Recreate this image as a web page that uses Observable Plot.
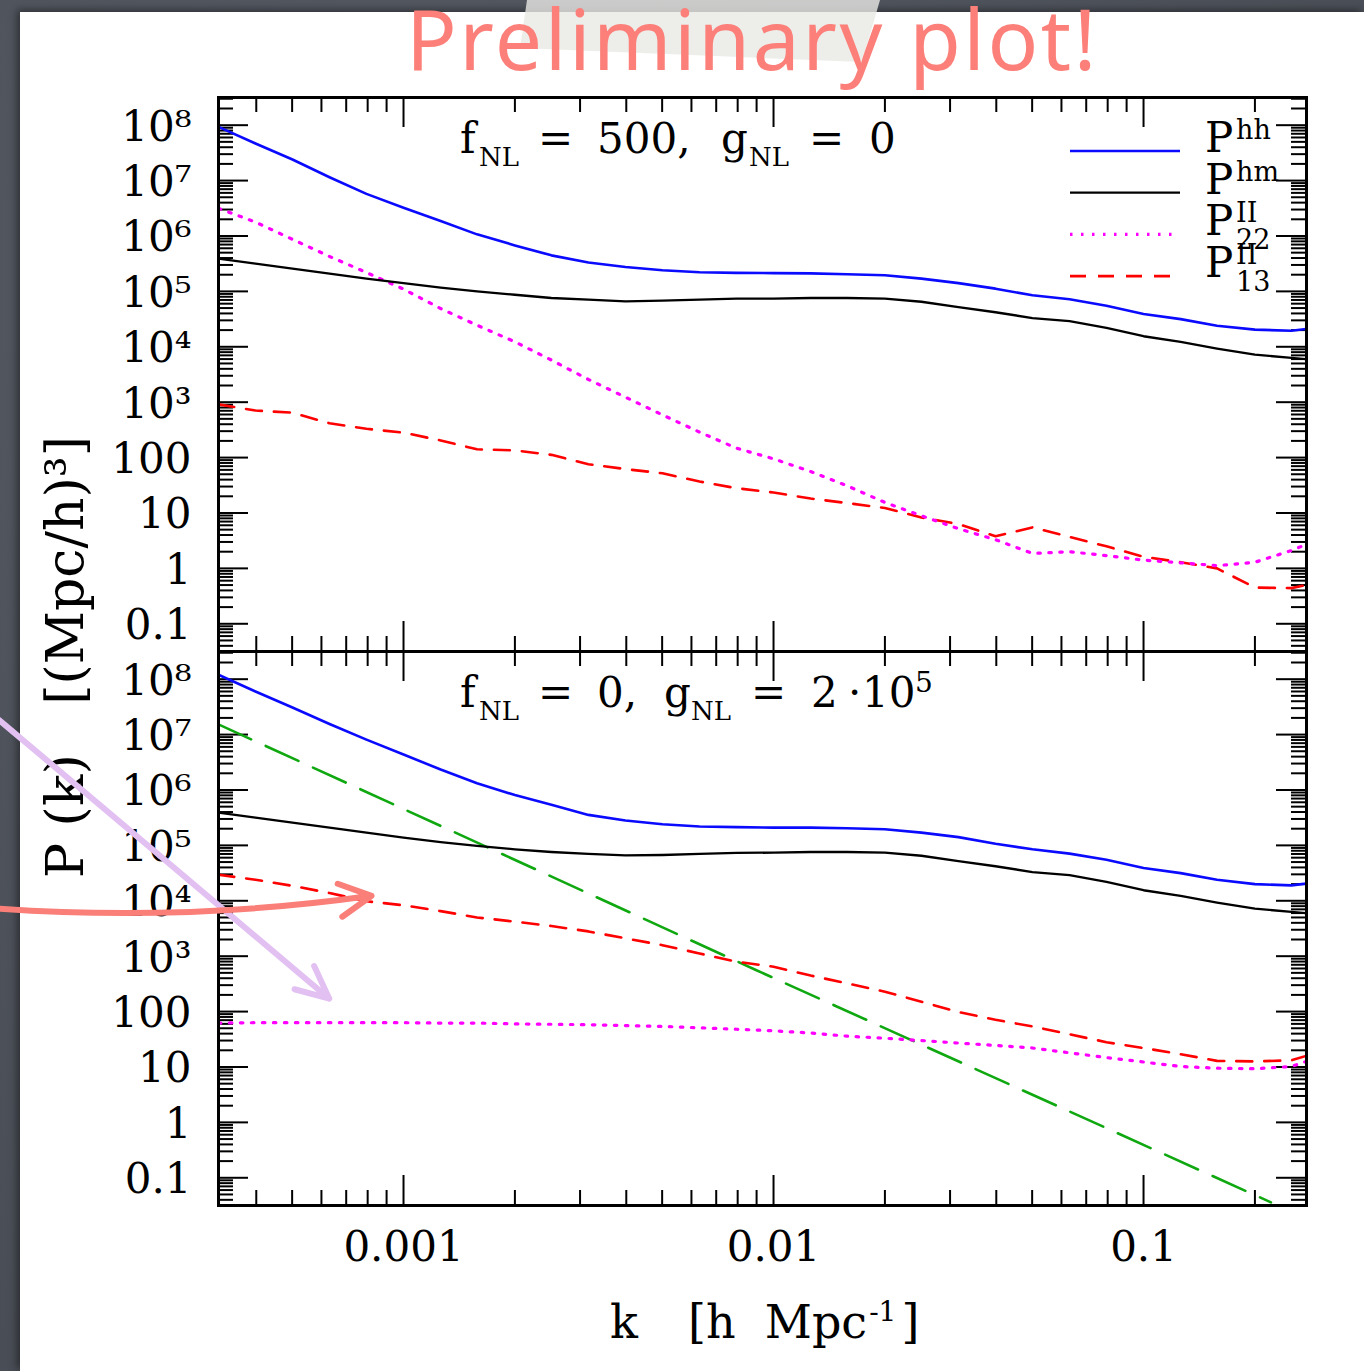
<!DOCTYPE html>
<html><head><meta charset="utf-8">
<script src="https://cdn.jsdelivr.net/npm/d3@7"></script>
<script src="https://cdn.jsdelivr.net/npm/@observablehq/plot@0.6"></script>
<style>
html,body{margin:0;padding:0;background:#4b5059;}
#page{position:relative;width:1364px;height:1371px;overflow:hidden;background:radial-gradient(circle at 30% 20%,#555a63,#464a52);}
#sheet{position:absolute;left:20px;top:12px;width:1344px;height:1359px;background:#fff;box-shadow:-3px -2px 8px rgba(0,0,0,0.45);}
#tape{position:absolute;left:0;top:0;width:1364px;height:120px;background:#e9e9e5;clip-path:polygon(527px 0,880px 0,862px 62px,520px 48px);opacity:0.8;}
.layer{position:absolute;left:0;width:1364px;}
</style></head>
<body>
<div id="page">
  <div id="sheet"></div>
  <div id="tape"></div>
  <div id="overlay" class="layer" style="top:0"></div>
  <div id="upper" class="layer" style="top:0"></div>
  <div id="lower" class="layer" style="top:641px"></div>
</div>
<script>
// ---------------- data ----------------
const kGrid = [3.16e-4, 3.98e-4, 5.01e-4, 6.31e-4, 7.94e-4, 1.0e-3, 1.26e-3, 1.58e-3, 2.0e-3, 2.51e-3,
  3.16e-3, 3.98e-3, 5.01e-3, 6.31e-3, 7.94e-3, 0.01, 0.0126, 0.0158, 0.02, 0.0251,
  0.0316, 0.0398, 0.0501, 0.0631, 0.0794, 0.1, 0.126, 0.158, 0.2, 0.251, 0.275];

// upper panel: f_NL = 500, g_NL = 0
const topPhh = [9.33e7, 4.68e7, 2.40e7, 1.15e7, 5.75e6, 3.24e6, 1.86e6, 1.07e6, 6.76e5, 4.47e5,
  3.31e5, 2.75e5, 2.40e5, 2.21e5, 2.16e5, 2.14e5, 2.11e5, 2.04e5, 1.95e5, 1.70e5,
  1.41e5, 1.12e5, 8.5e4, 7.2e4, 5.5e4, 3.9e4, 3.16e4, 2.4e4, 2.04e4, 1.95e4, 2.09e4];
const topPhm = [3.89e5, 3.16e5, 2.57e5, 2.09e5, 1.70e5, 1.41e5, 1.17e5, 1.0e5, 8.7e4, 7.6e4,
  7.1e4, 6.6e4, 6.8e4, 7.1e4, 7.4e4, 7.4e4, 7.6e4, 7.6e4, 7.4e4, 6.5e4,
  5.2e4, 4.2e4, 3.3e4, 2.9e4, 2.2e4, 1.55e4, 1.23e4, 9.3e3, 7.2e3, 6.3e3, 6.0e3];
const topP22 = [3.16e6, 1.78e6, 8.7e5, 4.27e5, 2.19e5, 1.10e5, 4.9e4, 2.45e4, 1.23e4, 5.75e3,
  2.57e3, 1.23e3, 589, 288, 148, 95, 56, 31, 15.5, 8.9,
  5.2, 3.3, 1.86, 2.0, 1.7, 1.41, 1.26, 1.12, 1.29, 2.1, 2.7];
const topP13 = [912, 708, 646, 417, 331, 282, 204, 141, 135, 112,
  76, 62, 52, 37, 28, 23.4, 18.2, 15.1, 12.3, 8.3,
  6.3, 3.8, 5.5, 3.7, 2.5, 1.62, 1.29, 1.0, 0.45, 0.44, 0.5];

// lower panel: f_NL = 0, g_NL = 2·10^5
const lowPhh = [1.20e8, 6.0e7, 3.09e7, 1.55e7, 8.1e6, 4.37e6, 2.34e6, 1.32e6, 8.1e5, 5.4e5,
  3.55e5, 2.82e5, 2.40e5, 2.19e5, 2.14e5, 2.09e5, 2.09e5, 2.04e5, 1.95e5, 1.70e5,
  1.41e5, 1.07e5, 8.5e4, 7.1e4, 5.5e4, 3.9e4, 3.16e4, 2.4e4, 2.0e4, 1.9e4, 2.04e4];
const lowPhm = [3.89e5, 3.16e5, 2.57e5, 2.09e5, 1.70e5, 1.38e5, 1.15e5, 9.8e4, 8.5e4, 7.6e4,
  7.0e4, 6.6e4, 6.7e4, 7.0e4, 7.3e4, 7.4e4, 7.6e4, 7.6e4, 7.4e4, 6.5e4,
  5.2e4, 4.2e4, 3.3e4, 2.9e4, 2.2e4, 1.55e4, 1.23e4, 9.3e3, 7.2e3, 6.3e3, 6.0e3];
const lowP22 = [62, 63, 63, 63, 63, 63, 62, 62, 60, 59,
  58, 56, 54, 51, 48, 45, 41, 36, 33, 30,
  27, 24.5, 22, 18, 14.8, 12.3, 10.2, 9.5, 9.3, 10.2, 12.6];
const lowP13 = [2.95e4, 2.4e4, 1.86e4, 1.38e4, 9.8e3, 8.3e3, 6.5e3, 5.0e3, 4.2e3, 3.5e3,
  2.8e3, 2.1e3, 1.58e3, 1.12e3, 794, 646, 447, 324, 229, 151,
  98, 71, 54, 39, 28, 22, 17, 12.9, 12.6, 13.2, 15.8];
const lowGreenK = [3.16e-4, 8.9e-3, 0.221];
const lowGreenP = [1.53e7, 575, 0.036];

// axes
const kDomain = [3.162e-4, 0.2757];
const pDomain = [0.0316, 3.16e8];
const xTickValues = [0.001, 0.01, 0.1];
const xTickLabels = ["0.001", "0.01", "0.1"];
const yTickValues = [1e8, 1e7, 1e6, 1e5, 1e4, 1e3, 100, 10, 1, 0.1];
const yTickLabels = ["10⁸", "10⁷", "10⁶", "10⁵", "10⁴", "10³", "100", "10", "1", "0.1"];

// legend
const legendKeys = ["Phh", "Phm", "P22", "P13"];
const legendSup = ["hh", "hm", "II", "II"];
const legendSub = ["", "", "22", "13"];

// annotation arrows drawn on the slide (data coordinates of lower panel)
const salmonArrow = [{k1: 8.1e-5, p1: 7.2e3, k2: 8.2e-4, p2: 1.23e4}];
const lavenderArrow = [{k1: 8.1e-5, p1: 1.8e7, k2: 6.3e-4, p2: 171}];

// ---------------- styles ----------------
const styles = {
  Phh: {stroke: "#0a0aff", strokeWidth: 2.6},
  Phm: {stroke: "#000000", strokeWidth: 2.3},
  P22: {stroke: "#ff00ff", strokeWidth: 3.2, strokeDasharray: "2.5,8.5"},
  P13: {stroke: "#ff0000", strokeWidth: 2.6, strokeDasharray: "16,12"},
  green: {stroke: "#10a810", strokeWidth: 2.6, strokeDasharray: "36,16"}
};
const SERIF = "DejaVu Serif";
const W = 1364, ML = 218, MR = 58, IH = 554, IW = W - ML - MR;

const isMajor = t => Math.abs(Math.log10(t) - Math.round(Math.log10(t))) < 1e-9;
const xMinor = d3.scaleLog().domain(kDomain).ticks(30).filter(t => !isMajor(t));
const yMinor = d3.scaleLog().domain(pDomain).ticks(40).filter(t => !isMajor(t));
const yMajor = d3.scaleLog().domain(pDomain).ticks(40).filter(isMajor);

function table(arrays) {
  return legendKeys.flatMap((key, j) => kGrid.map((k, i) => ({series: key, k, P: arrays[j][i]})));
}

function panel(opts) {
  const rows = table(opts.series);
  const tk = {stroke: "#000", strokeWidth: 2};
  const marks = [
    Plot.tickX(xTickValues, {x: d => d, insetTop: IH - 30, ...tk}),
    Plot.tickX(xTickValues, {x: d => d, insetBottom: IH - 30, ...tk}),
    Plot.tickX(xMinor, {x: d => d, insetTop: IH - 15, ...tk}),
    Plot.tickX(xMinor, {x: d => d, insetBottom: IH - 15, ...tk}),
    Plot.tickY(yMajor, {y: d => d, insetRight: IW - 30, ...tk}),
    Plot.tickY(yMajor, {y: d => d, insetLeft: IW - 30, ...tk}),
    Plot.tickY(yMinor, {y: d => d, insetRight: IW - 15, ...tk}),
    Plot.tickY(yMinor, {y: d => d, insetLeft: IW - 15, ...tk}),
    Plot.text(yTickValues, {y: d => d, text: (d, i) => yTickLabels[i], frameAnchor: "left", dx: -27, dy: 2,
      textAnchor: "end", fontSize: 42, fontFamily: SERIF, fill: "#000"}),
  ];
  if (opts.green) {
    const g = lowGreenK.map((k, i) => ({k, P: lowGreenP[i]}));
    marks.push(Plot.line(g, {x: "k", y: "P", clip: true, ...styles.green}));
  }
  for (const key of ["P13", "P22", "Phm", "Phh"]) {
    marks.push(Plot.line(rows.filter(r => r.series === key), {x: "k", y: "P", clip: true, ...styles[key]}));
  }
  marks.push(Plot.frame({stroke: "#000", strokeWidth: 3}));
  if (opts.xLabels) {
    marks.push(Plot.text(xTickValues, {x: d => d, text: (d, i) => xTickLabels[i], frameAnchor: "bottom", dy: 55,
      fontSize: 42, fontFamily: SERIF, fill: "#000"}));
  }
  if (opts.arrows) {
    marks.push(Plot.arrow(lavenderArrow, {x1: "k1", y1: "p1", x2: "k2", y2: "p2", stroke: "#e2c0f2",
      strokeWidth: 6, headLength: 9, headAngle: 50}));
    marks.push(Plot.arrow(salmonArrow, {x1: "k1", y1: "p1", x2: "k2", y2: "p2", stroke: "#fa7f78",
      strokeWidth: 6, bend: -6, headLength: 9, headAngle: 55}));
  }
  return Plot.plot({
    width: W, height: opts.height,
    marginLeft: ML, marginRight: MR, marginTop: opts.mt, marginBottom: opts.mb,
    x: {type: "log", domain: kDomain, axis: null},
    y: {type: "log", domain: pDomain, axis: null},
    style: {background: "transparent", overflow: "visible"},
    marks
  });
}

document.getElementById("upper").append(panel({
  series: [topPhh, topPhm, topP22, topP13], height: 661, mt: 97, mb: 10
}));
document.getElementById("lower").append(panel({
  series: [lowPhh, lowPhm, lowP22, lowP13], green: true, xLabels: true, arrows: true,
  height: 730, mt: 10, mb: 166
}));

// ---------------- overlay texts (title, legend, annotations, axis titles) ----------------
const svg = d3.select("#overlay").append("svg").attr("width", W).attr("height", 1371)
  .style("display", "block").attr("font-family", SERIF);

svg.append("text").attr("x", 406).attr("y", 70).attr("font-family", "Noto Sans")
  .attr("font-size", 84).attr("letter-spacing", 2.5).attr("fill", "#fc7f79").text("Preliminary plot!");

// legend
legendKeys.forEach((key, i) => {
  const y = 151 + i * 41.7;
  const s = styles[key];
  svg.append("line").attr("x1", 1070).attr("x2", 1180).attr("y1", y).attr("y2", y)
    .attr("stroke", s.stroke).attr("stroke-width", s.strokeWidth)
    .attr("stroke-dasharray", s.strokeDasharray || null);
  const t = svg.append("text").attr("y", y + 1).attr("font-size", 42);
  t.append("tspan").attr("x", 1205).text("P");
  t.append("tspan").attr("x", 1236).attr("y", y - 12).attr("font-size", 27).text(legendSup[i]);
  if (legendSub[i]) t.append("tspan").attr("x", 1236).attr("y", y + 15).attr("font-size", 27).text(legendSub[i]);
});

// panel annotations
function annot(base, pieces) {
  for (const p of pieces) {
    svg.append("text").attr("x", p[0]).attr("y", base + (p[2] || 0))
      .attr("font-size", p[3] || 42).text(p[1]);
  }
}
annot(153, [[460, "f"], [479, "NL", 13, 26], [538, "="], [597, "500,"], [721, "g"], [749, "NL", 13, 26], [809, "="], [869, "0"]]);
annot(707, [[460, "f"], [479, "NL", 13, 26], [538, "="], [597, "0,"], [664, "g"], [691, "NL", 13, 26], [751, "="], [811, "2"], [848, "·"], [862, "10"], [915, "5", -15, 28]]);

// x title
const xt = svg.append("text").attr("y", 1338).attr("font-size", 46).attr("xml:space", "preserve")
  .style("white-space", "pre");
xt.append("tspan").attr("x", 610).text("k");
xt.append("tspan").attr("x", 688).text("[h  Mpc");
xt.append("tspan").attr("dx", 2).attr("dy", -17).attr("font-size", 28).text("-1");
xt.append("tspan").attr("dx", 5).attr("dy", 17).text("]");

// y title
svg.append("text").attr("transform", "translate(83,657) rotate(-90)")
  .attr("text-anchor", "middle").attr("font-size", 52).attr("xml:space", "preserve")
  .style("white-space", "pre").text("P (k)   [(Mpc/h)³]");
</script>
</body></html>
